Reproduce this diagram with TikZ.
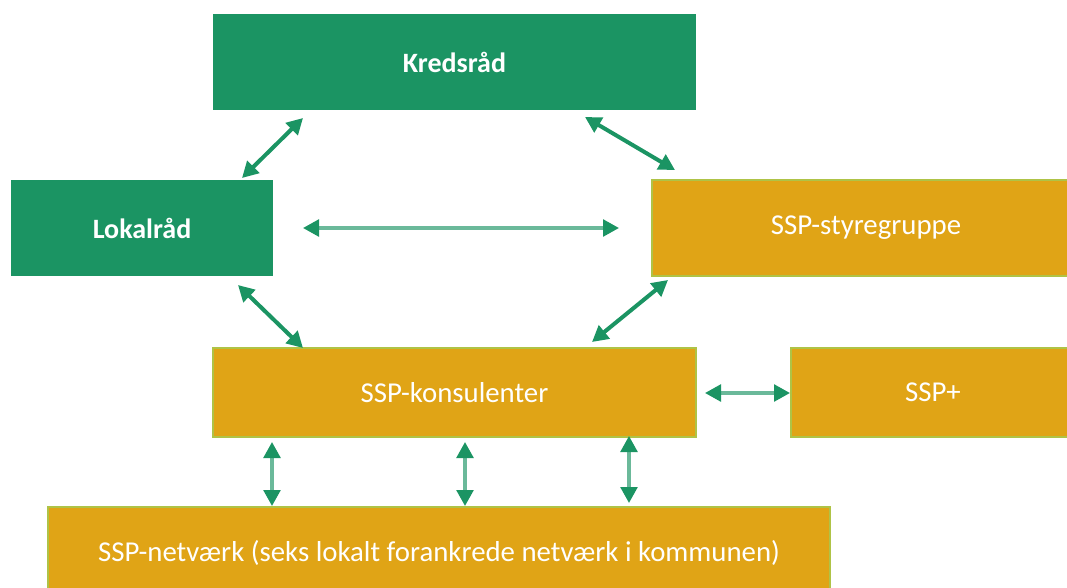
\documentclass[tikz,border=0pt]{standalone}
\usepackage{fontspec}
\setmainfont{Carlito}
\usetikzlibrary{arrows.meta}
\definecolor{grn}{RGB}{27,148,99}
\definecolor{org}{RGB}{224,164,22}
\definecolor{edg}{RGB}{175,195,70}
\begin{document}
\begin{tikzpicture}[x=0.75pt,y=-0.75pt,
  gbox/.style={fill=grn, draw=none, text=white, inner sep=0pt,
    font=\fontsize{21}{25}\selectfont\bfseries},
  obox/.style={fill=org, draw=edg, line width=0.8pt, text=white, inner sep=0pt,
    font=\fontsize{21.6}{26}\selectfont},
  link/.style={draw=grn, line width=3pt,
    {Triangle[length=12pt,width=12.5pt,color=grn]}-{Triangle[length=12pt,width=12.5pt,color=grn]}},
  lightlink/.style={link, draw=grn!65, line width=2.6pt}]
\useasboundingbox (0,0) rectangle (1067,587);
\fill[white] (0,0) rectangle (1067,587);

\node[gbox, minimum width=362.25pt, minimum height=72pt] (kreds) at (454.5,62) {Kredsråd};
\node[gbox, minimum width=196.5pt, minimum height=72pt] (lokal) at (142,228) {Lokalråd};
\node[obox, minimum width=321pt, minimum height=72pt] (styre) at (866,228) {SSP-styregruppe};
\node[obox, minimum width=362.25pt, minimum height=66.75pt] (kons) at (454.5,392.5) {SSP-konsulenter};
\node[obox, minimum width=213pt, minimum height=66.75pt] (plus) at (933,392.5) {SSP+};
\node[obox, minimum width=586.5pt, minimum height=69pt] (net) at (439,553) {SSP-netværk (seks lokalt forankrede netværk i kommunen)};

\coordinate (a1s) at (242,178); \coordinate (a1e) at (303,118);
\coordinate (a2s) at (585,117); \coordinate (a2e) at (675,170);
\coordinate (a3s) at (303,228); \coordinate (a3e) at (619,228);
\coordinate (a4s) at (238,285); \coordinate (a4e) at (303,348);
\coordinate (a5s) at (668,280); \coordinate (a5e) at (592,342);
\coordinate (a6s) at (705,393); \coordinate (a6e) at (790,393);
\coordinate (v1s) at (272,442); \coordinate (v1e) at (272,506);
\coordinate (v2s) at (465,442); \coordinate (v2e) at (465,506);
\coordinate (v3s) at (629,436); \coordinate (v3e) at (629,503);

\draw[link] (a1s) -- (a1e);
\draw[link] (a2s) -- (a2e);
\draw[lightlink] (a3s) -- (a3e);
\draw[link] (a4s) -- (a4e);
\draw[link] (a5s) -- (a5e);
\draw[lightlink] (a6s) -- (a6e);
\draw[lightlink] (v1s) -- (v1e);
\draw[lightlink] (v2s) -- (v2e);
\draw[lightlink] (v3s) -- (v3e);
\end{tikzpicture}
\end{document}
